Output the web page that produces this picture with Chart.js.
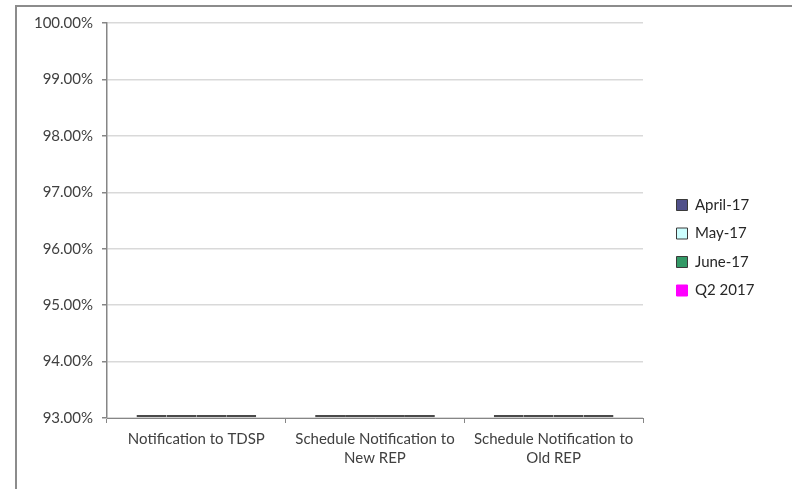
<!DOCTYPE html>
<html>
<head>
<meta charset="utf-8">
<script src="https://cdn.jsdelivr.net/npm/chart.js@4"></script>
<style>
  html, body { margin: 0; padding: 0; background: #fff; }
  #wrap { position: relative; width: 792px; height: 489px; overflow: hidden; }
  #frame { position: absolute; left: 15px; top: 5px; width: 800px; height: 500px;
           border: 2px solid #8c8c8c; box-sizing: border-box; }
  canvas { position: absolute; left: 0; top: 0; }
</style>
</head>
<body>
<div id="wrap">
  <div id="frame"></div>
  <canvas id="chart" width="792" height="489"></canvas>
</div>
<script>
// categories and series (all bars sit on the 93% floor)
const categories = [
  'Notification to TDSP',
  ['Schedule Notification to', 'New REP'],
  ['Schedule Notification to', 'Old REP']
];
const seriesNames = ['April-17', 'May-17', 'June-17', 'Q2 2017'];
const april17 = [93, 93, 93];
const may17 = [93, 93, 93];
const june17 = [93, 93, 93];
const q2_2017 = [93, 93, 93];
const yMin = 93;
const yMax = 100;
const yStep = 1;

const fills = ['#50508a', '#ccffff', '#339966', '#ff00ff'];
const FONT = 'Lato, "Liberation Sans", sans-serif';

// put the legend where Excel had it (right, centred on the whole chart)
const legendPlacer = {
  id: 'legendPlacer',
  afterLayout(chart) {
    const lg = chart.legend;
    lg.left = 663;
    lg.right = 792;
    lg.width = lg.right - lg.left;
    lg.top = 6;
    lg.bottom = 489.5;
    lg.height = lg.bottom - lg.top;
  }
};

new Chart('chart', {
  type: 'bar',
  data: {
    labels: categories,
    datasets: [april17, may17, june17, q2_2017].map((vals, i) => ({
      label: seriesNames[i],
      data: vals,
      base: yMin,
      backgroundColor: fills[i],
      borderColor: '#4a4a4a',
      borderWidth: 2,
      borderSkipped: false,
      minBarLength: 3,
      categoryPercentage: 0.67,
      barPercentage: 1
    }))
  },
  options: {
    responsive: false,
    animation: false,
    layout: { padding: { left: 0, top: 23, right: 69, bottom: 0 } },
    plugins: {
      tooltip: { enabled: false },
      legend: {
        position: 'right',
        maxWidth: 80,
        labels: {
          boxWidth: 11,
          boxHeight: 11,
          padding: 13.5,
          color: '#262626',
          font: { family: FONT, size: 15 },
          generateLabels(chart) {
            const items = Chart.defaults.plugins.legend.labels.generateLabels(chart);
            items.forEach((it, i) => {
              it.lineWidth = 1;
              it.strokeStyle = i === 3 ? fills[i] : '#3a3a3a';
            });
            return items;
          }
        }
      }
    },
    scales: {
      x: {
        grid: { drawOnChartArea: false, tickLength: 5, tickColor: '#868686' },
        border: { color: '#868686', width: 1 },
        ticks: { color: '#404040', padding: 6, font: { family: FONT, size: 15, lineHeight: 1.3 } },
        afterFit(scale) { scale.height = 71; }
      },
      y: {
        min: yMin,
        max: yMax,
        grid: { color: '#d9d9d9', lineWidth: 1.5, tickLength: 5, tickColor: '#868686' },
        border: { color: '#868686', width: 1.5 },
        ticks: {
          stepSize: yStep,
          padding: 9,
          color: '#404040',
          font: { family: FONT, size: 15 },
          callback: (v) => v.toFixed(2) + '%'
        },
        afterFit(scale) { scale.width = 107; }
      }
    }
  },
  plugins: [legendPlacer]
});
</script>
</body>
</html>
